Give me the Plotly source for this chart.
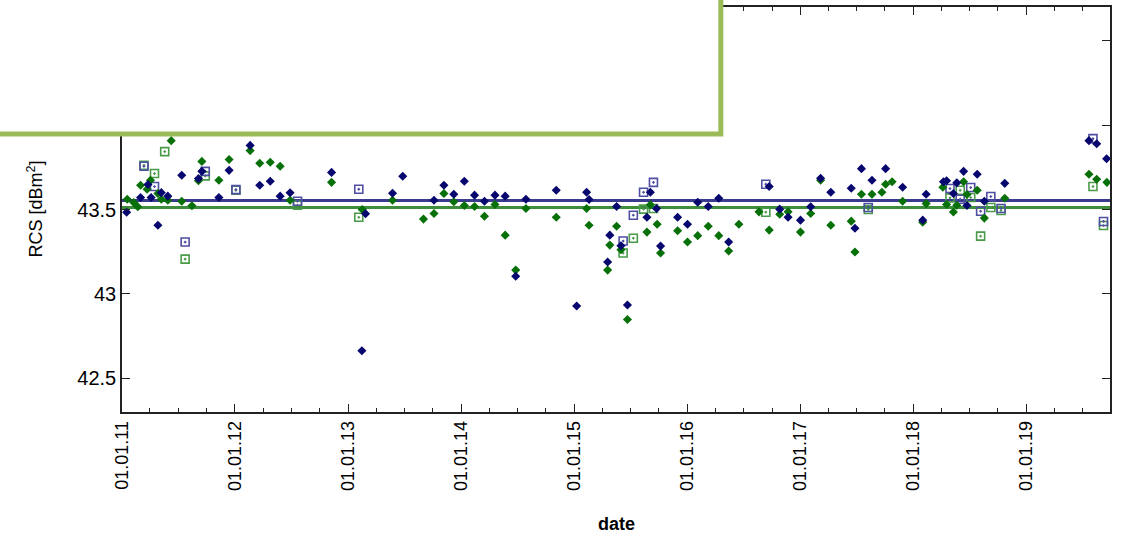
import plotly.graph_objects as go

# ---------------- data ----------------
blue_dates = ["2011-01-16","2011-03-02","2011-03-26","2011-04-05","2011-04-27","2011-05-08","2011-05-29",
    "2011-07-13","2011-09-05","2011-09-16","2011-11-10","2011-12-13","2012-02-19","2012-03-21","2012-04-24",
    "2012-05-26","2012-06-27","2012-11-08","2013-02-14","2013-02-26","2013-05-24","2013-06-26","2013-10-05",
    "2013-11-06","2013-12-08","2014-01-11","2014-02-13","2014-03-17","2014-04-20","2014-05-23","2014-06-26",
    "2014-07-29","2014-11-04","2015-01-09","2015-02-10","2015-02-18","2015-04-19","2015-04-26","2015-05-18",
    "2015-06-01","2015-06-22","2015-08-24","2015-09-04","2015-09-24","2015-10-07","2015-12-01","2016-01-02",
    "2016-02-04","2016-03-09","2016-04-12","2016-05-14","2016-09-22","2016-10-26","2016-11-22","2017-01-01",
    "2017-02-03","2017-03-07","2017-04-09","2017-06-14","2017-06-26","2017-07-17","2017-08-20","2017-10-03",
    "2017-11-27","2018-01-31","2018-02-11","2018-04-08","2018-04-18","2018-05-10","2018-05-21","2018-06-12",
    "2018-06-23","2018-07-26","2018-08-18","2018-10-23","2019-07-22","2019-08-16","2019-09-17"]
blue_values = [43.484,43.571,43.648,43.571,43.407,43.600,43.579,
    43.703,43.683,43.726,43.571,43.732,43.880,43.644,43.667,
    43.579,43.599,43.720,42.663,43.475,43.596,43.697,43.555,
    43.644,43.590,43.667,43.585,43.549,43.585,43.579,43.104,
    43.561,43.614,42.928,43.602,43.559,43.189,43.348,43.518,
    43.285,42.934,43.454,43.602,43.506,43.283,43.454,43.413,
    43.543,43.518,43.567,43.307,43.636,43.502,43.454,43.437,
    43.516,43.685,43.602,43.626,43.389,43.742,43.673,43.742,
    43.632,43.437,43.590,43.664,43.670,43.595,43.658,43.726,
    43.524,43.709,43.549,43.655,43.908,43.890,43.801]

green_dates = ["2011-01-18","2011-02-08","2011-02-21","2011-03-02","2011-03-23","2011-04-03","2011-04-27",
    "2011-05-08","2011-05-29","2011-06-09","2011-07-13","2011-08-15","2011-09-05","2011-09-16","2011-11-10",
    "2011-12-13","2012-02-19","2012-03-21","2012-04-24","2012-05-26","2012-06-27","2012-11-08","2013-02-15",
    "2013-05-24","2013-09-01","2013-10-05","2013-11-06","2013-12-08","2014-01-11","2014-02-13","2014-03-17",
    "2014-04-20","2014-05-23","2014-06-26","2014-07-29","2014-11-04","2015-02-10","2015-02-18","2015-04-19",
    "2015-04-26","2015-05-18","2015-06-01","2015-06-22","2015-08-24","2015-09-04","2015-09-26","2015-10-07",
    "2015-12-01","2016-01-02","2016-02-04","2016-03-09","2016-04-12","2016-05-14","2016-06-16","2016-08-20",
    "2016-09-22","2016-10-26","2016-11-22","2017-01-01","2017-02-03","2017-03-07","2017-04-09","2017-06-14",
    "2017-06-26","2017-07-17","2017-08-20","2017-09-21","2017-10-03","2017-10-24","2017-11-27","2018-01-31",
    "2018-02-11","2018-04-06","2018-04-18","2018-05-10","2018-05-21","2018-06-12","2018-06-23","2018-07-26",
    "2018-08-18","2018-10-23","2019-07-22","2019-08-16","2019-09-18"]
green_values = [43.561,43.541,43.516,43.644,43.620,43.673,43.595,
    43.561,43.555,43.908,43.549,43.522,43.670,43.785,43.673,
    43.796,43.849,43.774,43.780,43.756,43.555,43.661,43.500,
    43.555,43.443,43.476,43.595,43.546,43.524,43.518,43.460,
    43.530,43.348,43.141,43.506,43.454,43.506,43.407,43.141,
    43.289,43.401,43.262,42.848,43.366,43.528,43.413,43.242,
    43.374,43.307,43.345,43.401,43.345,43.254,43.413,43.486,
    43.378,43.472,43.486,43.366,43.476,43.673,43.407,43.431,
    43.248,43.590,43.590,43.602,43.650,43.664,43.549,43.425,
    43.535,43.632,43.530,43.485,43.525,43.664,43.589,43.614,
    43.449,43.567,43.709,43.679,43.661]

blue_sq_dates = ["2011-03-13","2011-04-16","2011-07-24","2011-09-27","2012-01-04","2012-07-21","2013-02-04",
    "2015-06-08","2015-07-11","2015-08-13","2015-09-14","2016-09-11","2017-08-08","2018-04-29","2018-06-01",
    "2018-07-05","2018-08-06","2018-09-08","2018-10-11","2019-08-04","2019-09-07"]
blue_sq_values = [43.756,43.636,43.307,43.726,43.618,43.549,43.620,
    43.313,43.466,43.602,43.661,43.650,43.512,43.624,43.561,
    43.630,43.490,43.577,43.506,43.920,43.429]

green_sq_dates = ["2011-03-13","2011-04-16","2011-05-19","2011-07-24","2011-09-27","2012-01-04","2012-07-21",
    "2013-02-04","2015-06-08","2015-07-11","2015-08-13","2015-09-14","2016-09-11","2017-08-08","2018-04-29",
    "2018-06-01","2018-07-05","2018-08-06","2018-09-08","2018-10-11","2019-08-04","2019-09-07"]
green_sq_values = [43.762,43.713,43.843,43.206,43.699,43.614,43.525,
    43.454,43.242,43.330,43.502,43.506,43.484,43.500,43.569,
    43.614,43.571,43.342,43.512,43.494,43.636,43.405]

blue_mean = 43.554
green_mean = 43.512

x_range = ["2011-01-01", "2019-09-28"]
y_range = [42.3, 44.7]
y_tick_vals = [42.5, 43, 43.5, 44, 44.5]

# ---------------- figure ----------------
FONT = "Liberation Sans, Arial, sans-serif"
NAVY = "#06066e"
GREEN = "#087008"

fig = go.Figure()

fig.add_hline(y=blue_mean, line=dict(color="#3a3a8e", width=3), layer="below")
fig.add_hline(y=green_mean, line=dict(color="#3d8d3d", width=3), layer="below")

fig.add_trace(go.Scatter(x=green_sq_dates, y=green_sq_values, mode="markers",
    marker=dict(symbol="square-open-dot", size=8, color="#4a9a4a", line=dict(width=1.6, color="#4a9a4a"))))
fig.add_trace(go.Scatter(x=blue_sq_dates, y=blue_sq_values, mode="markers",
    marker=dict(symbol="square-open-dot", size=8, color="#4e4ea2", line=dict(width=1.6, color="#4e4ea2"))))
fig.add_trace(go.Scatter(x=green_dates, y=green_values, mode="markers",
    marker=dict(symbol="diamond", size=7, color=GREEN, line=dict(width=0))))
fig.add_trace(go.Scatter(x=blue_dates, y=blue_values, mode="markers",
    marker=dict(symbol="diamond", size=7, color=NAVY, line=dict(width=0))))

fig.update_layout(
    width=1123, height=536,
    margin=dict(l=122, r=13, t=5, b=124),
    paper_bgcolor="white", plot_bgcolor="white",
    showlegend=False,
    font=dict(family=FONT, size=18, color="black"),
)

fig.update_xaxes(
    type="date", range=x_range,
    tickmode="linear", tick0="2011-01-01", dtick="M12", tickformat="%d.%m.%y",
    tickangle=-90, ticks="inside", ticklen=8, tickcolor="#222222", tickwidth=1.3,
    minor=dict(tickmode="linear", tick0="2011-01-01", dtick="M3", ticks="inside", ticklen=4,
               tickcolor="#222222", tickwidth=1.2, showgrid=False),
    showline=True, linecolor="#222222", linewidth=1.5, mirror="allticks",
    showgrid=False, zeroline=False,
    tickfont=dict(family=FONT, size=18, color="black"),
)
fig.update_yaxes(
    range=y_range,
    tickmode="array", tickvals=y_tick_vals, ticksuffix="\u00a0",
    ticks="inside", ticklen=8, tickcolor="#222222", tickwidth=1.3,
    showline=True, linecolor="#222222", linewidth=1.5, mirror="allticks",
    showgrid=False, zeroline=False,
    tickfont=dict(family=FONT, size=20, color="black"),
)

fig.add_annotation(text="date", xref="paper", yref="paper", x=0.5, y=-0.2776,
    showarrow=False, xanchor="center", yanchor="middle",
    font=dict(family=FONT, size=18, color="black", weight="bold"))
fig.add_annotation(text="RCS [dBm<sup>2</sup>]", xref="paper", yref="paper", x=-0.088, y=0.5,
    showarrow=False, xanchor="center", yanchor="middle", textangle=-90,
    font=dict(family=FONT, size=18, color="black"))

# overlaid box at top-left
fig.add_shape(type="rect", xref="paper", yref="paper", x0=-0.2, x1=0.6061, y0=0.6867, y1=1.05,
    line=dict(color="#9bbb59", width=5), fillcolor="white", layer="above")

fig.write_html("out.html")
